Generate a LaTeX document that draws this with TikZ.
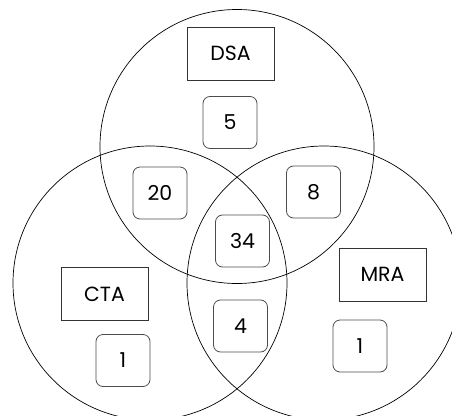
\documentclass[tikz,border=0pt]{standalone}
\usepackage{fontspec}
\setmainfont{Poppins}
\tikzset{
  setbox/.style={draw=black!80, line width=0.8pt, minimum width=87pt, minimum height=53pt, inner sep=0pt},
  countbox/.style={draw=black!70, line width=0.8pt, rounded corners=7pt, minimum width=54pt, minimum height=52pt, inner sep=0pt}
}

\begin{document}
\begin{tikzpicture}[x=1pt,y=-1pt,font=\fontsize{20.5}{24}\selectfont]
\useasboundingbox (0,0) rectangle (452,415);
\clip (0,0) rectangle (452,415);
% the three sets
\draw[line width=0.7pt] (237,146.5) circle (137);
\draw[line width=0.7pt] (150,283) circle (137);
\draw[line width=0.7pt] (324,283) circle (137);

% set names
\node[setbox] (dsa) at (230.5,53.5) {DSA};
\node[setbox] (cta) at (104.5,294) {CTA};
\node[setbox] (mra) at (382.5,274.5) {MRA};

% counts
\node[countbox] (dsaonly) at (230,122.5) {5};
\node[countbox] (dsacta) at (160,193) {20};
\node[countbox] (dsamra) at (313.5,192) {8};
\node[countbox] (all) at (242.5,241) {34};
\node[countbox] (ctamra) at (240.5,326) {4};
\node[countbox] (ctaonly) at (123,360.5) {1};
\node[countbox] (mraonly) at (360,346) {1};
\end{tikzpicture}
\end{document}
